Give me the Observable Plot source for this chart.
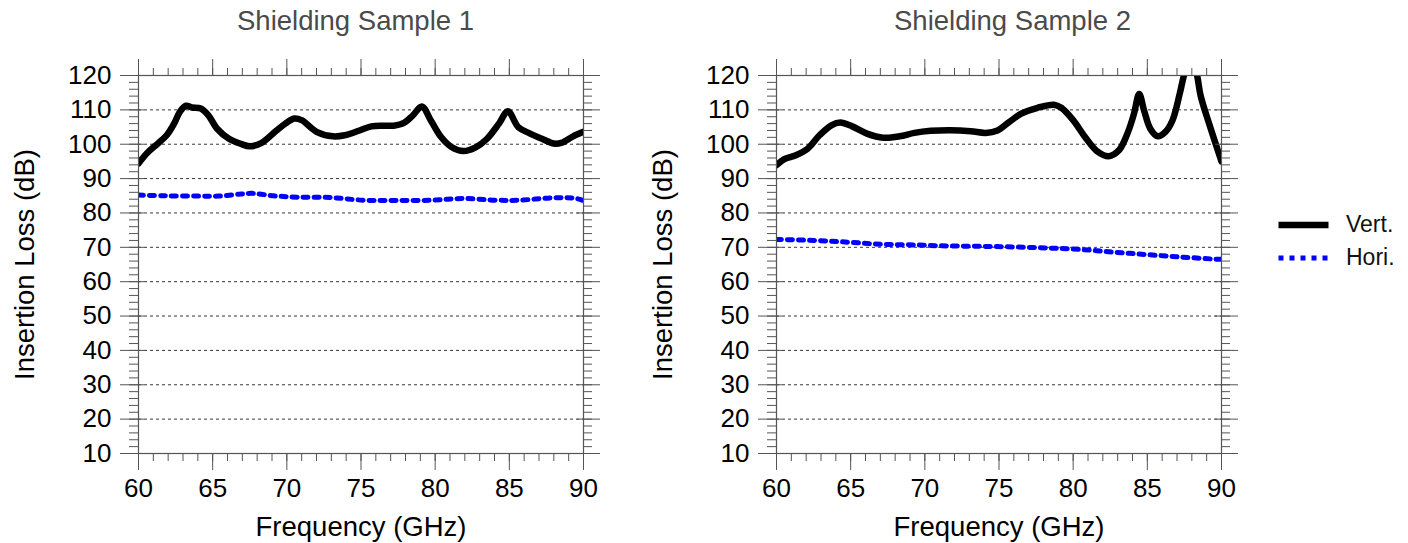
<!DOCTYPE html>
<html><head><meta charset="utf-8">
<script src="https://cdn.jsdelivr.net/npm/d3@7"></script>
<script src="https://cdn.jsdelivr.net/npm/@observablehq/plot@0.6"></script>
<style>
body{margin:0;background:#fff;}
#wrap{position:relative;width:1408px;height:543px;overflow:hidden;font-family:"Liberation Sans",Arial,Helvetica,sans-serif;}
.panel{position:absolute;top:0;}
#legend{position:absolute;left:1270px;top:200px;}
</style></head><body><div id="wrap"></div>
<script>
const titles = ["Shielding Sample 1", "Shielding Sample 2"];
const xLabel = "Frequency (GHz)";
const yLabel = "Insertion Loss (dB)";
const seriesNames = ["Vert.", "Hori."];
const xTicks = [60, 65, 70, 75, 80, 85, 90];
const xMinorTicks = d3.range(60, 91, 1);
const yTicks = [10, 20, 30, 40, 50, 60, 70, 80, 90, 100, 110, 120];
const yMinorTicks = d3.range(10, 121, 2);
const gridValues = [20, 30, 40, 50, 60, 70, 80, 90, 100, 110];

// Sample 1
const vertFreq1 = [60, 60.6, 61.3, 61.9, 62.4, 62.8, 63.2, 63.6, 64.2, 64.7, 65.3, 66.1, 66.9, 67.5, 68.3, 69.3, 69.9, 70.5, 71, 72, 73.1, 73.9, 74.9, 75.7, 76.5, 77.2, 77.9, 78.5, 79.1, 79.7, 80.4, 81.1, 81.9, 82.7, 83.5, 84.3, 84.9, 85.6, 86.4, 87.2, 88, 88.5, 89.3, 90];
const vertLoss1 = [94.4, 97.5, 100.2, 102.6, 106, 109.5, 111.2, 110.7, 110.4, 108.5, 104.5, 101.6, 100.1, 99.4, 100.4, 104, 106, 107.5, 107, 103.6, 102.3, 102.6, 104, 105.2, 105.4, 105.4, 106.2, 108.4, 111, 107, 102.1, 99.2, 98, 99, 101.6, 106, 109.6, 105, 103.1, 101.6, 100.2, 100.4, 102.3, 103.6];
const horiFreq1 = [60, 61.7, 64, 65.4, 66.9, 67.7, 69.1, 70.7, 72.9, 75.2, 77.4, 79.7, 81.9, 84.2, 85.6, 87.9, 89.4, 90];
const horiLoss1 = [85.2, 85.0, 84.9, 84.9, 85.5, 85.7, 85.0, 84.6, 84.5, 83.7, 83.6, 83.7, 84.2, 83.7, 83.7, 84.4, 84.3, 83.6];

// Sample 2
const vertFreq2 = [60, 60.5, 61.3, 62.1, 62.9, 63.7, 64.3, 65.1, 66.1, 67.2, 68.3, 69.3, 70.4, 71.7, 73.1, 74.1, 74.9, 75.7, 76.5, 77.6, 78.7, 79.2, 80, 80.8, 81.6, 82.4, 83.1, 83.7, 84.1, 84.45, 84.8, 85.2, 85.7, 86.2, 86.7, 87.2, 87.5, 87.9, 88.3, 88.6, 89.2, 90];
const vertLoss2 = [93.9, 95.6, 96.8, 98.7, 102.6, 105.5, 106.3, 105.2, 103.1, 101.9, 102.3, 103.3, 103.9, 104.1, 103.8, 103.3, 104, 106.5, 108.9, 110.6, 111.5, 110.6, 107, 102.1, 98, 96.5, 98.3, 103.6, 108.9, 114.6, 109.5, 104.5, 102.3, 103.5, 107, 115, 120.5, 125, 121, 114, 105.5, 95];
const horiFreq2 = [60, 62.5, 64.8, 67, 69.2, 71.5, 73.7, 76, 78.2, 80.4, 82.7, 84.9, 87.2, 89.4, 90];
const horiLoss2 = [72.3, 72.0, 71.5, 70.9, 70.7, 70.4, 70.3, 70.1, 69.8, 69.4, 68.6, 67.9, 67.2, 66.6, 66.5];

const FONT = '"Liberation Sans", Arial, Helvetica, sans-serif';
const AX = "#555";
const W = 640, H = 543, ML = 138, MR = 57, MT = 75, MB = 90;
const innerW = W - ML - MR;
const DOT = "5,6";

function panel(vf, vl, hf, hl, title, titleDx) {
  const vert = vf.map((f, i) => ({f, v: vl[i]}));
  const hori = hf.map((f, i) => ({f, v: hl[i]}));
  const blank = () => "";
  return Plot.plot({
    width: W, height: H,
    marginLeft: ML, marginRight: MR, marginTop: MT, marginBottom: MB,
    x: {domain: [60, 90]},
    y: {domain: [10, 120]},
    style: {fontFamily: FONT, fontSize: "26px", color: "#000", background: "transparent", overflow: "visible"},
    marks: [
      Plot.gridY(gridValues, {stroke: "#222", strokeOpacity: 0.9, strokeDasharray: "3,3", strokeWidth: 1}),
      Plot.line(hori, {x: "f", y: "v", stroke: "#0000ff", strokeWidth: 5, strokeDasharray: DOT, curve: "catmull-rom", clip: true}),
      Plot.line(vert, {x: "f", y: "v", stroke: "#000", strokeWidth: 6.5, curve: "catmull-rom", clip: true}),
      Plot.frame({stroke: AX, strokeWidth: 1.2}),
      // bottom x ticks
      Plot.axisX({anchor: "bottom", ticks: xMinorTicks, tickSize: 8, tickFormat: blank, label: null, stroke: AX}),
      Plot.axisX({anchor: "bottom", ticks: xTicks, tickSize: 17, tickPadding: 7.7, fontSize: 26, label: null, stroke: AX}),
      // top x ticks
      Plot.axisX({anchor: "top", ticks: xMinorTicks, tickSize: 8, tickFormat: blank, label: null, stroke: AX}),
      Plot.axisX({anchor: "top", ticks: xTicks, tickSize: 17, tickFormat: blank, label: null, stroke: AX}),
      // left y ticks
      Plot.axisY({anchor: "left", ticks: yMinorTicks, tickSize: 9, tickFormat: blank, label: null, stroke: AX}),
      Plot.axisY({anchor: "left", ticks: yTicks, tickSize: 18, tickPadding: 9, fontSize: 26, label: null, stroke: AX}),
      Plot.tickY(yTicks, {y: d => d, insetRight: innerW - 6, stroke: AX}),
      // right y ticks
      Plot.axisY({anchor: "right", ticks: yMinorTicks, tickSize: 8, tickFormat: blank, label: null, stroke: AX}),
      Plot.axisY({anchor: "right", ticks: yTicks, tickSize: 16, tickFormat: blank, label: null, stroke: AX}),
      Plot.tickY(yTicks, {y: d => d, insetLeft: innerW - 6, stroke: AX}),
      // texts
      Plot.text([title], {frameAnchor: "top", dx: titleDx, dy: 29.3 - MT, lineAnchor: "bottom", textAnchor: "middle", fontSize: 27.5, fill: "#4a4a4a"}),
      Plot.text([xLabel], {frameAnchor: "bottom", dy: 535 - (H - MB), lineAnchor: "bottom", textAnchor: "middle", fontSize: 27.5, fill: "#000"}),
      Plot.text([yLabel], {frameAnchor: "left", dx: 33.3 - ML, rotate: -90, lineAnchor: "bottom", textAnchor: "middle", fontSize: 27.5, fill: "#000"})
    ]
  });
}

const wrap = document.getElementById("wrap");
const p1 = panel(vertFreq1, vertLoss1, horiFreq1, horiLoss1, titles[0], 355 - (ML + innerW / 2));
p1.classList.add("panel"); p1.style.left = "0px";
const p2 = panel(vertFreq2, vertLoss2, horiFreq2, horiLoss2, titles[1], 1012 - (638 + ML + innerW / 2));
p2.classList.add("panel"); p2.style.left = "638px";
wrap.appendChild(p1);
wrap.appendChild(p2);

// legend
const lg = d3.select(wrap).append("svg").attr("id", "legend").attr("width", 138).attr("height", 80)
  .style("font-family", FONT);
const legendStyles = [
  {stroke: "#000", width: 6.5, dash: null},
  {stroke: "#0000ff", width: 5, dash: DOT}
];
seriesNames.forEach((name, i) => {
  const cy = 25 + i * 33;
  const st = legendStyles[i];
  const ln = lg.append("line").attr("x1", 8.5).attr("x2", 58.5).attr("y1", cy).attr("y2", cy)
    .attr("stroke", st.stroke).attr("stroke-width", st.width);
  if (st.dash) ln.attr("stroke-dasharray", st.dash);
  lg.append("text").attr("x", 76).attr("y", cy + 6.7).attr("font-size", 23).attr("fill", "#111").text(name);
});
</script>
</body></html>
